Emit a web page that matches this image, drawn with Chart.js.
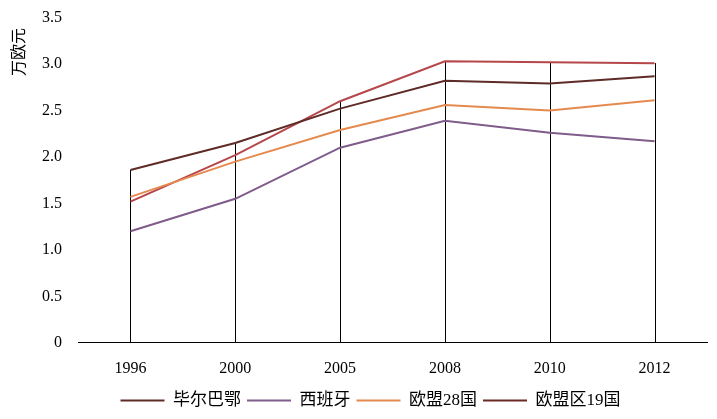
<!DOCTYPE html>
<html>
<head>
<meta charset="utf-8">
<script src="https://cdn.jsdelivr.net/npm/chart.js@4"></script>
<style>
    body { margin: 0; background: #fff; }
    #wrap { width: 717px; height: 419px; }
</style>
</head>
<body>
<div id="wrap"><canvas id="chart"></canvas></div>
<script>
const YEARS   = ['1996', '2000', '2005', '2008', '2010', '2012'];
const BILBAO  = [1.86, 2.15, 2.52, 2.82, 2.79, 2.87];
const SPAIN   = [1.20, 1.55, 2.10, 2.39, 2.26, 2.17];
const EU28    = [1.57, 1.95, 2.29, 2.56, 2.50, 2.61];
const EURO19  = [1.52, 2.02, 2.60, 3.03, 3.02, 3.01];
const Y_TICKS = ['0', '0.5', '1.0', '1.5', '2.0', '2.5', '3.0', '3.5'];

const FONT = "'Liberation Serif', 'Noto Sans CJK SC', serif";

// vertical drop lines from the axis up to the highest series value
const dropLines = {
    id: 'dropLines',
    beforeDatasetsDraw(chart)
    {
        const ctx = chart.ctx;
        const x = chart.scales.x, y = chart.scales.y;
        ctx.save();
        ctx.strokeStyle = '#000';
        ctx.lineWidth = 1;
        YEARS.forEach((_, i) => {
            const top = Math.max(...chart.data.datasets.map(d => d.data[i]));
            const px = Math.round(x.getPixelForValue(i)) + 0.5;
            ctx.beginPath();
            ctx.moveTo(px, y.getPixelForValue(0));
            ctx.lineTo(px, y.getPixelForValue(top));
            ctx.stroke();
        });
        ctx.restore();
    },
    afterDraw(chart)
    {
        // unit label sits at the top left, rotated
        const ctx = chart.ctx;
        ctx.save();
        ctx.translate(20, 52);
        ctx.rotate(-Math.PI / 2);
        ctx.font = "16px " + FONT;
        ctx.fillStyle = '#000';
        ctx.textAlign = 'center';
        ctx.textBaseline = 'middle';
        ctx.fillText('万欧元', 0, 0);
        ctx.restore();
    }
};

function line(label, data, color)
{
    return { label, data, borderColor: color, backgroundColor: color, borderWidth: 2, pointRadius: 0, tension: 0 };
}

new Chart(document.getElementById('chart'), {
    type: 'line',
    data: {
        labels: YEARS,
        datasets: [
            line('毕尔巴鄂', BILBAO, '#5e2b26'),
            line('西班牙', SPAIN, '#7f5c8a'),
            line('欧盟28国', EU28, '#e58a4e'),
            line('欧盟区19国', EURO19, '#b5474a')
        ]
    },
    options: {
        responsive: true,
        maintainAspectRatio: false,
        animation: false,
        layout: { padding: { left: 34, right: 10, top: 6, bottom: 0 } },
        plugins: {
            legend: {
                position: 'bottom',
                labels: {
                    font: { family: FONT, size: 17 },
                    color: '#000',
                    boxWidth: 44,
                    boxHeight: 2,
                    padding: 6,
                    generateLabels: chart => chart.data.datasets.map((d, i) => ({
                        text: d.label,
                        fillStyle: i === 3 ? '#6b2a26' : d.borderColor,
                        strokeStyle: i === 3 ? '#6b2a26' : d.borderColor,
                        lineWidth: 0,
                        datasetIndex: i
                    }))
                }
            },
            tooltip: { enabled: false }
        },
        scales: {
            x: {
                offset: true,
                grid: { display: false },
                border: { color: '#000' },
                ticks: { color: '#000', padding: 8, font: { family: FONT, size: 16 } }
            },
            y: {
                min: 0,
                max: 3.5,
                grid: { display: false },
                border: { display: false },
                ticks: {
                    stepSize: 0.5,
                    color: '#000',
                    padding: 8,
                    font: { family: FONT, size: 16 },
                    callback: (v, i) => Y_TICKS[i]
                }
            }
        }
    },
    plugins: [dropLines]
});
</script>
</body>
</html>
